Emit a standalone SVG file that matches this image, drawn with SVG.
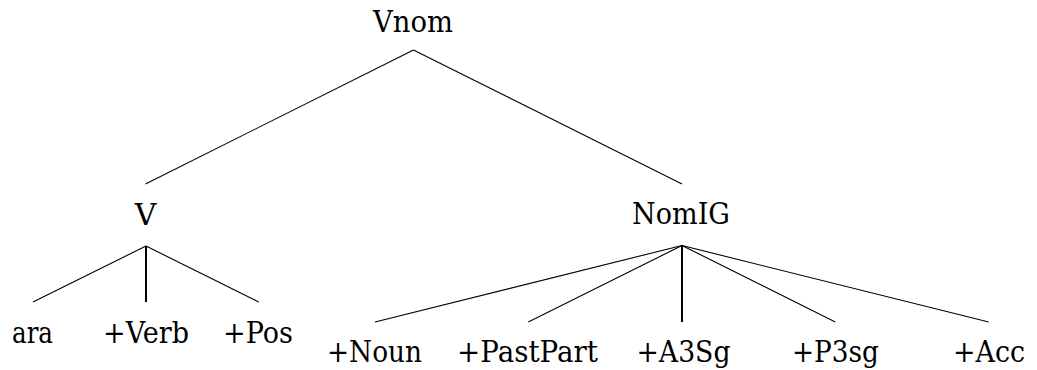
<svg xmlns="http://www.w3.org/2000/svg" width="1037" height="370" viewBox="0 0 1037 370">
<style>
text { font-family: "DejaVu Serif", serif; font-size: 30px; fill: #000; text-anchor: middle; }
.e line { stroke: #000; stroke-width: 1.1; }
.e .v { stroke-width: 2; }
</style>
<rect width="1037" height="370" fill="#fff"/>
<g id="connectors" class="e">
<line x1="413.5" y1="50" x2="145.5" y2="184"/>
<line x1="413.5" y1="50" x2="682" y2="184"/>
<line x1="146" y1="246" x2="33" y2="302"/>
<line class="v" x1="146" y1="246" x2="146" y2="302"/>
<line x1="146" y1="246" x2="258.7" y2="302"/>
<line x1="682" y1="245.5" x2="375" y2="322"/>
<line x1="682" y1="245.5" x2="528.3" y2="322"/>
<line class="v" x1="682" y1="245.5" x2="682" y2="322"/>
<line x1="682" y1="245.5" x2="835.3" y2="322"/>
<line x1="682" y1="245.5" x2="988.7" y2="322"/>
</g>
<g id="n-vnom"><text x="413" y="32" textLength="80" lengthAdjust="spacingAndGlyphs">Vnom</text></g>
<g id="n-v"><text x="145.5" y="225">V</text></g>
<g id="n-nomig"><text x="681" y="224" textLength="98" lengthAdjust="spacingAndGlyphs">NomIG</text></g>
<g id="n-ara"><text x="32.5" y="342.5" textLength="41" lengthAdjust="spacingAndGlyphs">ara</text></g>
<g id="n-verb"><text x="146" y="342.5" textLength="86" lengthAdjust="spacingAndGlyphs">+Verb</text></g>
<g id="n-pos"><text x="258" y="342.5" textLength="70" lengthAdjust="spacingAndGlyphs">+Pos</text></g>
<g id="n-noun"><text x="374.5" y="361.5" textLength="95" lengthAdjust="spacingAndGlyphs">+Noun</text></g>
<g id="n-pastpart"><text x="527.5" y="361.5" textLength="141" lengthAdjust="spacingAndGlyphs">+PastPart</text></g>
<g id="n-a3sg"><text x="683.5" y="361.5" textLength="94" lengthAdjust="spacingAndGlyphs">+A3Sg</text></g>
<g id="n-p3sg"><text x="835.5" y="361.5" textLength="87" lengthAdjust="spacingAndGlyphs">+P3sg</text></g>
<g id="n-acc"><text x="989" y="361.5" textLength="72" lengthAdjust="spacingAndGlyphs">+Acc</text></g>
</svg>
